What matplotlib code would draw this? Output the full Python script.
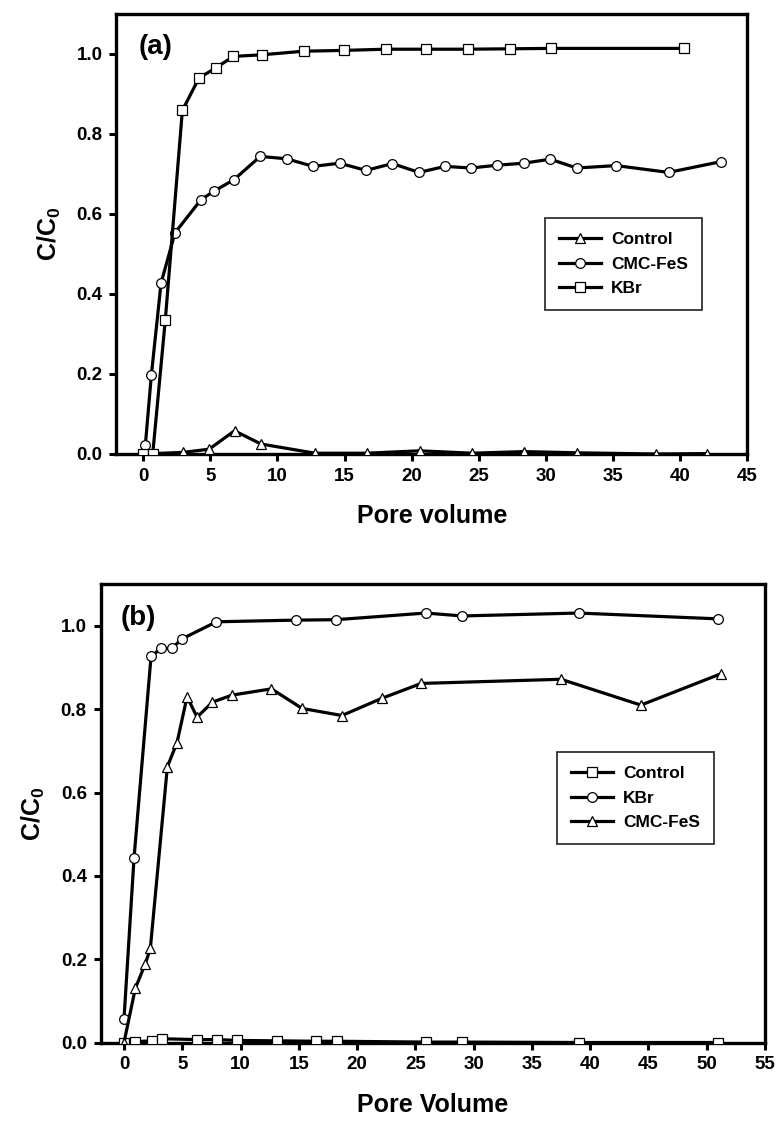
import matplotlib
matplotlib.use("Agg")
import matplotlib.pyplot as plt

plt.rcParams['font.family'] = ['Liberation Sans', 'DejaVu Sans']
plt.rcParams['font.weight'] = 'bold'
plt.rcParams['mathtext.fontset'] = 'custom'
plt.rcParams['mathtext.rm'] = 'Liberation Sans'
plt.rcParams['mathtext.bf'] = 'Liberation Sans:bold'
plt.rcParams['mathtext.it'] = 'Liberation Sans:italic'

# ---------------- Panel (a) data ----------------
a_control_x = [0, 2.95, 4.9, 6.8, 8.77, 12.8, 16.65, 20.6, 24.5, 28.4, 32.3, 38.2, 42.0]
a_control_y = [0.0, 0.004, 0.012, 0.058, 0.025, 0.002, 0.002, 0.008, 0.002, 0.006, 0.003, 0.0, 0.001]

a_cmc_x = [0.15, 0.6, 1.32, 2.36, 4.3, 5.27, 6.76, 8.72, 10.68, 12.67, 14.63, 16.6, 18.56,
           20.55, 22.49, 24.42, 26.39, 28.35, 30.34, 32.3, 35.25, 39.15, 43.08]
a_cmc_y = [0.022, 0.198, 0.427, 0.553, 0.636, 0.657, 0.686, 0.744, 0.738, 0.719, 0.727, 0.709, 0.726,
           0.704, 0.719, 0.715, 0.722, 0.727, 0.737, 0.715, 0.721, 0.704, 0.731]

a_kbr_x = [0, 0.7, 1.64, 2.91, 4.15, 5.44, 6.71, 8.84, 11.95, 14.98, 18.06, 21.1, 24.17, 27.3, 30.4, 40.3]
a_kbr_y = [0.0, 0.0, 0.336, 0.859, 0.94, 0.966, 0.994, 0.998, 1.007, 1.009, 1.012, 1.012, 1.012, 1.013, 1.014, 1.014]

# ---------------- Panel (b) data ----------------
b_control_x = [0, 0.94, 2.42, 3.28, 6.28, 8.0, 9.67, 13.1, 16.5, 18.25, 25.9, 29.0, 39.0, 51.0]
b_control_y = [0.0, 0.002, 0.004, 0.009, 0.007, 0.007, 0.005, 0.004, 0.003, 0.003, 0.001, 0.001, 0.0, 0.0]

b_kbr_x = [0, 0.86, 2.32, 3.2, 4.09, 4.98, 7.93, 14.76, 18.17, 25.9, 29.0, 39.0, 51.0]
b_kbr_y = [0.057, 0.443, 0.927, 0.946, 0.946, 0.969, 1.010, 1.014, 1.015, 1.031, 1.024, 1.031, 1.017]

b_cmc_x = [0, 0.97, 1.83, 2.26, 3.72, 4.55, 5.41, 6.27, 7.58, 9.27, 12.65, 15.28, 18.7, 22.1, 25.5, 37.5, 44.35, 51.2]
b_cmc_y = [0.0, 0.13, 0.189, 0.226, 0.662, 0.72, 0.83, 0.781, 0.817, 0.834, 0.849, 0.802, 0.785, 0.826, 0.862, 0.872, 0.81, 0.885]

a_xticks = [0, 5, 10, 15, 20, 25, 30, 35, 40, 45]
b_xticks = [0, 5, 10, 15, 20, 25, 30, 35, 40, 45, 50, 55]
yticks = [0.0, 0.2, 0.4, 0.6, 0.8, 1.0]

W, H = 779, 1123
fig = plt.figure(figsize=(W / 100, H / 100), dpi=100)

def fx(px):
    return px / W

def fy(py):
    return 1 - py / H

ax_a = fig.add_axes([fx(116.5), fy(454), fx(747 - 116.5), (454 - 14) / H])
ax_b = fig.add_axes([fx(100.7), fy(1042.5), fx(765 - 100.7), (1042.5 - 584.3) / H])

line_kw = dict(color='black', lw=2.3, mfc='white', mec='black', mew=0.9)

def style(ax, xticks, xmax, xlabel):
    ax.set_xlim(-2, xmax)
    ax.set_ylim(0, 1.1)
    ax.set_xticks(xticks)
    ax.set_yticks(yticks)
    ax.set_yticklabels([f"{v:.1f}" for v in yticks])
    for s in ax.spines.values():
        s.set_linewidth(2.4)
    ax.tick_params(axis='both', direction='out', length=5, width=2.2, labelsize=13.5, pad=5)
    for lab in ax.get_xticklabels() + ax.get_yticklabels():
        lab.set_fontweight('bold')
    ax.set_xlabel(xlabel, fontsize=18, fontweight='bold', labelpad=14)
    ax.set_ylabel(r'$\mathbf{C/C_0}$', fontsize=18, labelpad=10)

# Panel (a)
ax_a.plot(a_control_x, a_control_y, marker='^', ms=7.5, label='Control', zorder=3, **line_kw)
ax_a.plot(a_cmc_x, a_cmc_y, marker='o', ms=7, label='CMC-FeS', zorder=3, **line_kw)
ax_a.plot(a_kbr_x, a_kbr_y, marker='s', ms=7, label='KBr', zorder=4, **line_kw)
style(ax_a, a_xticks, 45, 'Pore volume')
ax_a.text(0.035, 0.955, '(a)', transform=ax_a.transAxes, fontsize=20, fontweight='bold', va='top', ha='left')
leg_a = ax_a.legend(loc='upper left', bbox_to_anchor=(fx(545), fy(218)), bbox_transform=fig.transFigure,
                    frameon=True, fancybox=False, edgecolor='black', fontsize=12.5, handlelength=2.4,
                    borderaxespad=0, borderpad=0.8, labelspacing=0.55, handletextpad=0.6)
leg_a.get_frame().set_linewidth(1.3)
for t in leg_a.get_texts():
    t.set_fontweight('bold')

# Panel (b)
ax_b.plot(b_control_x, b_control_y, marker='s', ms=7, label='Control', zorder=3, **line_kw)
ax_b.plot(b_kbr_x, b_kbr_y, marker='o', ms=7, label='KBr', zorder=3, **line_kw)
ax_b.plot(b_cmc_x, b_cmc_y, marker='^', ms=7.5, label='CMC-FeS', zorder=4, **line_kw)
style(ax_b, b_xticks, 55, 'Pore Volume')
ax_b.text(0.03, 0.955, '(b)', transform=ax_b.transAxes, fontsize=20, fontweight='bold', va='top', ha='left')
leg_b = ax_b.legend(loc='upper left', bbox_to_anchor=(fx(557), fy(752)), bbox_transform=fig.transFigure,
                    frameon=True, fancybox=False, edgecolor='black', fontsize=12.5, handlelength=2.4,
                    borderaxespad=0, borderpad=0.8, labelspacing=0.55, handletextpad=0.6)
leg_b.get_frame().set_linewidth(1.3)
for t in leg_b.get_texts():
    t.set_fontweight('bold')

fig.savefig('out.png', dpi=100)
